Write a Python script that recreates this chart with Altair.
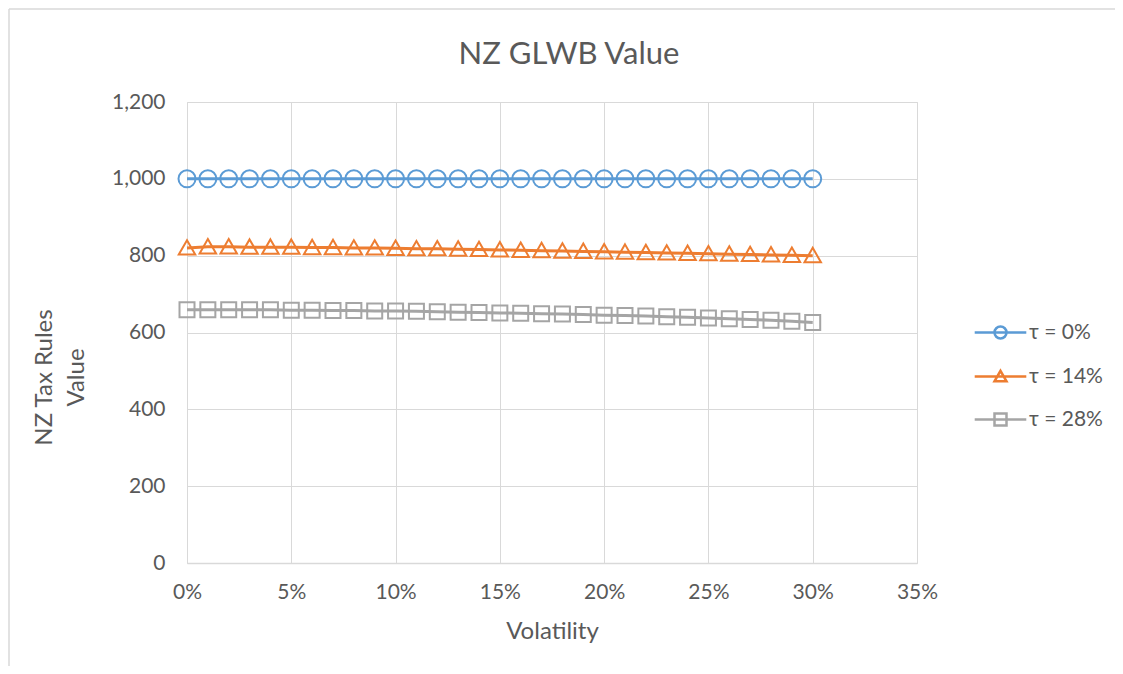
import altair as alt
import pandas as pd

# ---------------- data ----------------
volatility = [0.00, 0.01, 0.02, 0.03, 0.04, 0.05, 0.06, 0.07, 0.08, 0.09, 0.10,
              0.11, 0.12, 0.13, 0.14, 0.15, 0.16, 0.17, 0.18, 0.19, 0.20,
              0.21, 0.22, 0.23, 0.24, 0.25, 0.26, 0.27, 0.28, 0.29, 0.30]

tau_0 = [1000, 1000, 1000, 1000, 1000, 1000, 1000, 1000, 1000, 1000, 1000,
         1000, 1000, 1000, 1000, 1000, 1000, 1000, 1000, 1000, 1000,
         1000, 1000, 1000, 1000, 1000, 1000, 1000, 1000, 1000, 1000]

tau_14 = [820, 823, 823, 822, 822, 822, 821, 821, 820, 820, 819,
          818, 818, 817, 816, 815, 814, 813, 812, 811, 810,
          809, 808, 807, 806, 805, 804, 803, 802, 801, 800]

tau_28 = [659, 659, 659, 659, 659, 658, 658, 657, 657, 656, 656,
          655, 654, 653, 652, 651, 650, 649, 648, 647, 645,
          644, 643, 641, 640, 638, 636, 634, 632, 629, 626]

series_names = ["τ = 0%", "τ = 14%", "τ = 28%"]
series_colors = ["#5B9BD5", "#ED7D31", "#A5A5A5"]

x_ticks = [0, 0.05, 0.10, 0.15, 0.20, 0.25, 0.30, 0.35]
y_ticks = [0, 200, 400, 600, 800, 1000, 1200]

rows = []
for name, vals in zip(series_names, [tau_0, tau_14, tau_28]):
    for v, val in zip(volatility, vals):
        rows.append({"vol": v, "value": val, "series": name})
df = pd.DataFrame(rows)

# ---------------- styling ----------------
FONT = "Lato"
TEXT = "#595959"
GRID = "#D9D9D9"

CIRCLE = "M-1,0A1,1 0 1,0 1,0A1,1 0 1,0 -1,0Z"
TRIANGLE = "M0,-0.95L1,0.8L-1,0.8Z"
SQUARE = "M-1,-1L1,-1L1,1L-1,1Z"
shapes = [CIRCLE, TRIANGLE, SQUARE]
marker_sizes = [289, 272, 225]
SEG = "M-4.3,0L4.3,0"
legend_shapes = [SEG + s for s in shapes]

W, H = 730, 461

x_enc = alt.X(
    "vol:Q",
    scale=alt.Scale(domain=[0, 0.35], nice=False, zero=False),
    axis=alt.Axis(values=x_ticks, format=".0%", labelFontSize=21, labelColor=TEXT,
                  labelFont=FONT, labelPadding=18, labelFlush=False, labelOverlap=False,
                  ticks=False, domain=True,
                  domainColor=GRID, domainWidth=1.5, grid=True, gridColor=GRID,
                  gridWidth=1, title="Volatility", titleFont=FONT, titleFontSize=24,
                  titleColor=TEXT, titleFontWeight="normal", titlePadding=17),
)
y_enc = alt.Y(
    "value:Q",
    scale=alt.Scale(domain=[0, 1200], nice=False),
    axis=alt.Axis(values=y_ticks, format=",.0f", labelFontSize=21, labelColor=TEXT,
                  labelFont=FONT, labelPadding=22, labelFlush=False, labelOverlap=False,
                  ticks=False, domain=False,
                  grid=True, gridColor=GRID, gridWidth=1,
                  title=["NZ Tax Rules", "Value"], titleFont=FONT, titleFontSize=24,
                  titleColor=TEXT, titleFontWeight="normal", titleAngle=-90,
                  titleX=-155, titleY=275, titleAlign="center", titleBaseline="top",
                  titleLineHeight=32),
)

base = alt.Chart(df)

layers = []
for name, col in zip(series_names, series_colors):
    layers.append(
        base.transform_filter(alt.datum.series == name)
        .mark_line(color=col, strokeWidth=3)
        .encode(x=x_enc, y=y_enc)
    )
for name, col, shp, sz in zip(series_names, series_colors, shapes, marker_sizes):
    layers.append(
        base.transform_filter(alt.datum.series == name)
        .mark_point(shape=shp, filled=False, color=col, strokeWidth=2, size=sz, opacity=1)
        .encode(x=x_enc, y=y_enc)
    )

legend = alt.Legend(
    title=None, orient="none", legendX=803, legendY=220, padding=0,
    labelFont=FONT, labelFontSize=21, labelColor=TEXT, labelOffset=18,
    symbolSize=144, symbolStrokeWidth=2.5, rowPadding=21,
)
legend_layer = (
    base.transform_filter("false")
    .mark_point(filled=False, strokeWidth=2.5, opacity=1)
    .encode(
        color=alt.Color("series:N", scale=alt.Scale(domain=series_names, range=series_colors),
                        legend=legend),
        shape=alt.Shape("series:N", scale=alt.Scale(domain=series_names, range=legend_shapes),
                        legend=legend),
    )
)
layers.append(legend_layer)

# light frame around the chart (decorative)
frame_top = alt.Chart(pd.DataFrame({"k": [0]})).mark_rule(color="#D9D9D9", strokeWidth=1.5).encode(
    x=alt.value(-178), x2=alt.value(W + 198), y=alt.value(-93))
frame_left = alt.Chart(pd.DataFrame({"k": [0]})).mark_rule(color="#D9D9D9", strokeWidth=1.5).encode(
    x=alt.value(-178), y=alt.value(-93), y2=alt.value(H + 103))

chart = alt.layer(frame_top, frame_left, *layers).properties(
    width=W, height=H,
    title=alt.TitleParams("NZ GLWB Value", font=FONT, fontSize=31, color=TEXT,
                          fontWeight="normal", anchor="middle", frame="group",
                          dx=17, offset=-87, baseline="alphabetic"),
    autosize="none",
    padding={"left": 179, "top": 94, "right": 198, "bottom": 103},
).configure_view(stroke=None).configure(font=FONT)

chart.save("out.html", embed_options={"renderer": "svg", "actions": False})
